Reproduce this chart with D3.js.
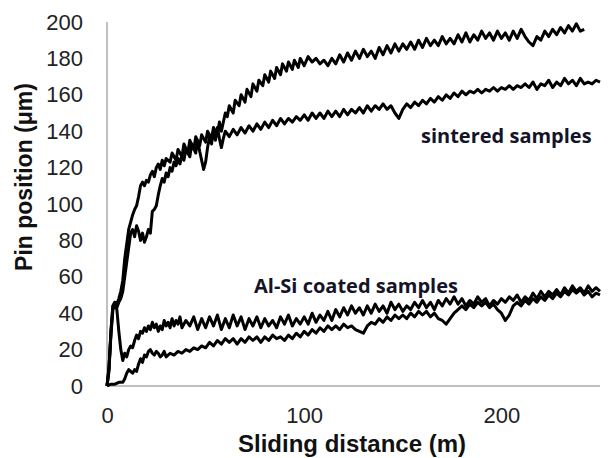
<!DOCTYPE html>
<html>
<head>
<meta charset="utf-8">
<script src="https://cdn.jsdelivr.net/npm/d3@7"></script>
<style>
  body { margin: 0; background: #fff; }
  .axis text { font-family: "Liberation Sans", Arial, sans-serif; font-size: 22px; fill: #222; }
  .axis path { stroke: #c0c0c0; stroke-width: 2px; }
  .title { font-family: "Liberation Sans", Arial, sans-serif; font-weight: bold; fill: #111; }
  .note { font-family: "Open Sans", sans-serif; font-weight: bold; font-size: 20px; fill: #141428; }
</style>
</head>
<body>
<script>
// values, [sliding distance m, pin position um]
const sinteredA = [
  [0,0],[1,8],[2,30],[3,44],[4,46],[5,45],[6,48],[7,52],[8,58],[9,70],[10,78],[11,86],[12,90],[13,94],
  [14,97],[15,99],[16,104],[17,110],[18,112],[19,110],[20,113],[21,112],[22,116],[23,118],[24,115],
  [25,120],[26,122],[27,119],[28,124],[29,121],[30,125],[32,123],[33,128],[35,124],[36,130],[38,126],
  [39,133],[41,128],[42,135],[44,130],[45,137],[47,132],[48,138],[50,134],[51,140],[53,136],[54,142],
  [56,138],[57,145],[58,140],[60,150],[61,148],[62,154],[64,150],[65,157],[67,154],[68,160],[70,156],
  [71,163],[73,159],[74,166],[76,162],[77,168],[79,165],[80,171],[82,167],[83,173],[85,169],[86,175],
  [88,171],[89,177],[91,173],[92,178],[94,174],[95,179],[97,175],[98,180],[100,176],[102,181],[104,178],
  [106,180],[108,177],[110,179],[112,176],[114,180],[116,177],[118,182],[120,178],[122,183],[124,179],
  [126,184],[128,180],[130,185],[132,181],[134,184],[136,180],[138,186],[140,182],[142,187],[144,183],
  [146,188],[148,184],[150,188],[152,185],[154,189],[156,185],[158,190],[160,186],[162,191],[164,187],
  [166,190],[168,187],[170,192],[172,188],[174,191],[176,188],[178,193],[180,189],[182,194],[184,189],
  [186,193],[188,190],[190,195],[192,191],[194,194],[196,190],[198,195],[200,191],[202,194],[204,190],
  [206,195],[208,191],[210,196],[212,192],[214,189],[216,187],[218,192],[220,190],[222,195],[224,192],
  [226,196],[228,193],[230,197],[232,194],[234,198],[236,195],[238,199],[240,195],[242,196]
];
const sinteredB = [
  [0,0],[1,10],[2,28],[3,42],[4,44],[5,43],[6,46],[7,48],[8,52],[9,60],[10,68],[11,76],[12,84],[13,86],
  [14,82],[15,88],[16,85],[17,80],[18,84],[19,79],[20,82],[21,86],[22,84],[23,96],[24,97],[25,99],
  [26,105],[27,110],[28,114],[29,112],[30,117],[31,115],[32,120],[33,118],[34,123],[35,121],[36,125],
  [37,122],[38,127],[39,124],[40,130],[42,126],[43,133],[45,128],[46,135],[47,129],[48,124],[49,119],
  [50,123],[51,131],[52,137],[53,133],[54,140],[55,135],[56,142],[57,136],[58,131],[59,136],[60,140],
  [62,137],[64,141],[66,138],[68,142],[70,139],[72,143],[74,140],[76,144],[78,141],[80,145],[82,142],
  [84,146],[86,143],[88,147],[90,144],[92,147],[94,145],[96,148],[98,146],[100,149],[102,146],[104,150],
  [106,147],[108,150],[110,147],[112,151],[114,148],[116,151],[118,148],[120,152],[122,149],[124,152],
  [126,150],[128,153],[130,150],[132,154],[134,151],[136,154],[138,152],[140,155],[142,152],[144,154],
  [146,150],[148,147],[150,152],[152,155],[154,153],[156,156],[158,154],[160,157],[162,155],[164,158],
  [166,156],[168,159],[170,157],[172,160],[174,158],[176,161],[178,159],[180,162],[182,160],[184,162],
  [186,161],[188,163],[190,161],[192,163],[194,162],[196,164],[198,162],[200,164],[202,163],[204,165],
  [206,163],[208,165],[210,164],[212,166],[214,164],[216,167],[218,163],[220,166],[222,165],[224,168],
  [226,164],[228,167],[230,165],[232,169],[234,166],[236,168],[238,165],[240,169],[242,166],[244,167],
  [246,166],[248,168],[250,167]
];
const coatedA = [
  [0,0],[1,10],[2,30],[3,44],[4,46],[5,42],[6,30],[7,20],[8,14],[9,18],[10,16],[11,20],[12,22],[13,21],
  [14,25],[15,28],[16,26],[17,30],[18,29],[19,32],[20,30],[21,33],[22,31],[23,35],[24,32],[25,34],
  [26,30],[27,33],[28,31],[29,36],[30,33],[31,35],[32,32],[33,37],[34,33],[35,36],[36,34],[37,38],
  [38,32],[40,36],[42,33],[44,38],[46,31],[48,37],[50,32],[52,38],[54,33],[56,39],[58,31],[60,37],
  [62,32],[64,39],[66,33],[68,38],[70,31],[72,37],[74,33],[76,38],[78,32],[80,37],[82,33],[84,36],
  [86,32],[88,38],[90,34],[92,39],[94,33],[96,37],[98,34],[100,38],[102,34],[104,40],[106,35],[108,39],
  [110,36],[112,41],[114,36],[116,42],[118,38],[120,43],[122,39],[124,44],[126,40],[128,43],[130,39],
  [132,44],[134,40],[136,45],[138,41],[140,44],[142,40],[144,46],[146,42],[148,45],[150,41],[152,44],
  [154,42],[156,46],[158,43],[160,47],[162,43],[164,46],[166,42],[168,47],[170,44],[172,48],[174,45],
  [176,49],[178,45],[180,48],[182,44],[184,47],[186,45],[188,49],[190,46],[192,48],[194,44],[196,47],
  [198,45],[200,48],[202,46],[204,49],[206,47],[208,50],[210,46],[212,49],[214,47],[216,51],[218,48],
  [220,52],[222,49],[224,52],[226,50],[228,53],[230,50],[232,54],[234,51],[236,55],[238,52],[240,54],
  [242,51],[244,55],[246,52],[248,54],[250,52]
];
const coatedB = [
  [0,0],[2,1],[4,1],[6,2],[8,2],[9,4],[10,7],[11,9],[12,8],[13,7],[14,9],[15,8],[16,12],[17,15],
  [18,13],[19,17],[20,16],[21,19],[22,20],[23,18],[24,17],[25,19],[26,18],[27,16],[28,17],[29,19],
  [30,16],[32,18],[34,17],[36,19],[38,18],[40,20],[42,19],[44,21],[46,20],[48,22],[50,21],[52,24],
  [54,22],[56,25],[58,23],[60,26],[62,24],[64,26],[66,23],[68,26],[70,24],[72,27],[74,25],[76,27],
  [78,24],[80,27],[82,25],[84,28],[86,26],[88,27],[90,25],[92,28],[94,26],[96,29],[98,27],[100,30],
  [102,28],[104,31],[106,29],[108,32],[110,30],[112,33],[114,31],[116,33],[118,31],[120,34],[122,32],
  [124,33],[126,31],[128,30],[130,29],[132,33],[134,35],[136,34],[138,37],[140,35],[142,38],[144,36],
  [146,39],[148,37],[150,39],[152,37],[154,40],[156,38],[158,41],[160,39],[162,41],[164,38],[166,40],
  [168,37],[170,36],[172,34],[174,37],[176,40],[178,42],[180,44],[182,42],[184,45],[186,43],[188,46],
  [190,44],[192,46],[194,43],[196,45],[198,42],[200,40],[202,36],[204,39],[206,44],[208,46],[210,44],
  [212,47],[214,45],[216,48],[218,46],[220,49],[222,47],[224,50],[226,48],[228,51],[230,49],[232,52],
  [234,50],[236,53],[238,51],[240,53],[242,50],[244,52],[246,49],[248,51],[250,50]
];
const xTicks = [0, 100, 200];
const yTicks = [0, 20, 40, 60, 80, 100, 120, 140, 160, 180, 200];

const width = 608;
const height = 458;

const svg = d3.select("body")
    .append("svg")
    .attr("width", width)
    .attr("height", height);

const x = d3.scaleLinear().domain([0, 250]).range([107, 600]);
const y = d3.scaleLinear().domain([0, 200]).range([386, 22]);

svg.append("g")
    .attr("class", "axis")
    .attr("transform", "translate(0,386)")
    .call(d3.axisBottom(x).tickValues(xTicks).tickSize(0).tickPadding(21))
    .call(g => g.select(".domain").attr("d", "M107,0H600"));

svg.append("g")
    .attr("class", "axis")
    .attr("transform", "translate(107,0)")
    .call(d3.axisLeft(y).tickValues(yTicks).tickSize(0).tickPadding(24))
    .call(g => g.select(".domain").attr("d", "M0,22V386"));

const line = d3.line()
    .x(d => x(d[0]))
    .y(d => y(d[1]));

svg.selectAll("path.curve")
    .data([coatedB, coatedA, sinteredB, sinteredA])
  .enter().append("path")
    .attr("class", "curve")
    .attr("d", line)
    .style("fill", "none")
    .style("stroke", "#000")
    .style("stroke-width", "3px")
    .style("stroke-linejoin", "round");

svg.append("text")
    .attr("class", "title")
    .attr("x", 352)
    .attr("y", 452)
    .attr("text-anchor", "middle")
    .style("font-size", "24px")
    .text("Sliding distance (m)");

svg.append("text")
    .attr("class", "title")
    .attr("transform", "translate(32,177) rotate(-90)")
    .attr("text-anchor", "middle")
    .style("font-size", "23px")
    .text("Pin position (μm)");

svg.append("text")
    .attr("class", "note")
    .attr("x", 421)
    .attr("y", 143)
    .text("sintered samples");

svg.append("text")
    .attr("class", "note")
    .attr("x", 254)
    .attr("y", 293)
    .text("Al-Si coated samples");
</script>
</body>
</html>
